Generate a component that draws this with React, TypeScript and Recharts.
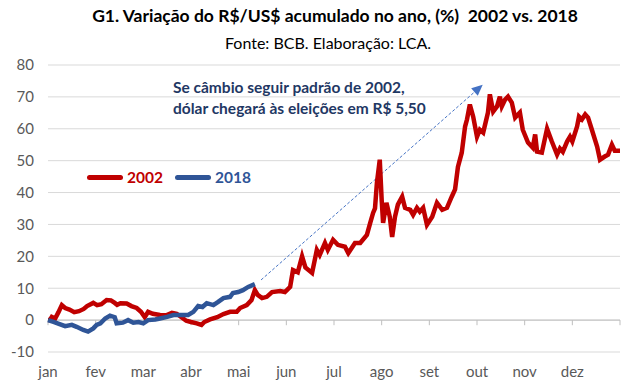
import { CartesianGrid, Line, LineChart, ReferenceLine, XAxis, YAxis } from "recharts";

const months = ["jan", "fev", "mar", "abr", "mai", "jun", "jul", "ago", "set", "out", "nov", "dez"];
const yTicks = [-10, 0, 10, 20, 30, 40, 50, 60, 70, 80];

// x = months since jan 1st, y = % accumulated in the year
const x2002 = [
  0, 0.04, 0.08, 0.15, 0.22, 0.29, 0.36, 0.45, 0.55, 0.65, 0.75, 0.82, 0.95, 1.03, 1.12, 1.23, 1.32, 1.4,
  1.45, 1.52, 1.65, 1.75, 1.86, 1.95, 2.03, 2.1, 2.2, 2.35, 2.48, 2.6, 2.7, 2.8, 2.9, 3.0, 3.12, 3.22, 3.28,
  3.4, 3.55, 3.68, 3.82, 3.96, 4.03, 4.17, 4.27, 4.34, 4.4, 4.49, 4.59, 4.7, 4.87, 4.97, 5.08, 5.14, 5.24,
  5.33, 5.4, 5.54, 5.64, 5.7, 5.81, 5.87, 5.98, 6.08, 6.23, 6.3, 6.44, 6.55, 6.69, 6.76, 6.82, 6.86, 6.9,
  6.96, 7.0, 7.03, 7.1, 7.17, 7.22, 7.28, 7.34, 7.43, 7.49, 7.6, 7.66, 7.74, 7.8, 7.87, 7.95, 8.06, 8.16,
  8.27, 8.37, 8.47, 8.54, 8.6, 8.68, 8.75, 8.79, 8.85, 8.92, 9.0, 9.06, 9.13, 9.23, 9.27, 9.34, 9.42, 9.48,
  9.52, 9.59, 9.65, 9.73, 9.8, 9.9, 9.96, 10.07, 10.17, 10.22, 10.26, 10.36, 10.47, 10.57, 10.68, 10.74,
  10.8, 10.89, 10.95, 11.0, 11.1, 11.14, 11.2, 11.27, 11.33, 11.41, 11.52, 11.58, 11.68, 11.75, 11.83,
  11.89, 12.0,
];
const y2002 = [
  0, 0, 1, 0.5, 2.5, 4.7, 3.8, 3.3, 2.5, 2.8, 3.5, 4.4, 5.4, 4.7, 5.0, 6.3, 6.2, 5.4,
  4.8, 5.3, 5.2, 4.4, 3.8, 2.6, 0.9, 2.6, 2.0, 1.6, 1.5, 2.3, 2.0, 0.9, -0.2, -0.6, -1.0, -1.5, -0.6,
  0.2, 0.9, 1.9, 2.6, 2.6, 3.8, 4.7, 6.3, 9.4, 7.9, 6.9, 7.3, 8.8, 9.1, 8.8, 10.4, 15.7, 15.0,
  20.0, 16.5, 14.8, 22, 20.4, 24.2, 22, 25.2, 23.6, 23, 21, 24.2, 24.2, 26.7, 30.5, 33.6, 35, 43,
  50.3, 37.7, 30.5, 36.8, 32.4, 26.1, 32.4, 36.2, 38.7, 35.2, 34.6, 33, 35.2, 34, 35.2, 29.9, 32.4, 36.8,
  34.6, 35.2, 38.7, 41, 48, 52.5, 60.7, 62.9, 67.6, 63.8, 57.5, 59.7, 58.8, 65.1, 70.8, 65.4, 67, 70.1,
  67, 69.2, 70.1, 68.2, 63.5, 65.1, 59.7, 55.7, 54.1, 58.2, 52.8, 52.5, 60, 56, 51.9, 53.8,
  52.8, 56, 57.5, 56, 60.7, 63.8, 62.9, 64.5, 63.5, 59.7, 54.4, 50.3, 51.3, 51.9, 55,
  53.1, 53.1,
];

const x2018 = [
  0, 0.1, 0.2, 0.36, 0.5, 0.6, 0.74, 0.84, 0.95, 1.02, 1.1, 1.2, 1.3, 1.4, 1.44, 1.57, 1.68, 1.79, 1.9,
  2.0, 2.1, 2.25, 2.35, 2.5, 2.63, 2.8, 2.94, 3.05, 3.15, 3.24, 3.33, 3.47, 3.57, 3.68, 3.82, 3.88, 3.99,
  4.09, 4.2, 4.34,
];
const y2018 = [
  0, -0.5, -1, -1.9, -1.5, -2.1, -3.1, -3.6, -2.6, -1.5, -1, 0.5, 1.4, 0.9, -1, -0.8, 0, -0.8, -0.6,
  -1, 0, 0.2, 0.5, 1, 1.6, 1.6, 1.6, 2.6, 4.4, 4.1, 5.3, 4.7, 5.7, 6.9, 7.3, 8.5, 8.8,
  9.4, 10.4, 11.3,
];

const s2002 = x2002.map((m, i) => ({ m, v: y2002[i] }));
const s2018 = x2018.map((m, i) => ({ m, v: y2018[i] }));

const C = {
  red: "#C00000",
  blue: "#2F5597",
  grid: "#D9D9D9",
  axis: "#BFBFBF",
  label: "#595959",
  note: "#1F3864",
  arrow: "#4472C4",
};
const FONT = "Lato, 'Open Sans', sans-serif";

function Arrow(p: any) {
  const { x1, y1, x2, y2 } = p;
  const ang = Math.atan2(y2 - y1, x2 - x1);
  const len = 11;
  const w = 5;
  const bx = x2 - len * Math.cos(ang);
  const by = y2 - len * Math.sin(ang);
  const nx = -Math.sin(ang) * w;
  const ny = Math.cos(ang) * w;
  return (
    <g>
      <line x1={x1} y1={y1} x2={bx} y2={by} stroke={C.arrow} strokeWidth={1} strokeDasharray="3 2" />
      <polygon points={`${x2},${y2} ${bx + nx},${by + ny} ${bx - nx},${by - ny}`} fill={C.arrow} />
    </g>
  );
}

function LegendItem({ color, label }: { color: string; label: string }) {
  return (
    <div style={{ display: "flex", alignItems: "center", marginRight: 12 }}>
      <div style={{ width: 36, height: 5, background: color, borderRadius: 2.5, marginRight: 4 }} />
      <span style={{ color, fontWeight: 700, fontSize: 15.5 }}>{label}</span>
    </div>
  );
}

export default function App() {
  return (
    <div style={{ position: "relative", width: 640, height: 384, background: "#fff", fontFamily: FONT }}>
      <style>{`body{margin:0}`}</style>
      <div style={{ position: "absolute", top: 5, left: 0, width: 670, textAlign: "center", fontWeight: 700, fontSize: 17.5, color: "#000" }}>
        G1. Variação do R$/US$ acumulado no ano, (%)&nbsp; 2002 vs. 2018
      </div>
      <div style={{ position: "absolute", top: 33, left: 0, width: 656, textAlign: "center", fontSize: 16, color: "#000" }}>
        Fonte: BCB. Elaboração: LCA.
      </div>
      <LineChart width={640} height={384} margin={{ top: 65, right: 20, left: 0, bottom: 0 }}>
        <CartesianGrid vertical={false} stroke={C.grid} />
        <XAxis
          type="number"
          dataKey="m"
          domain={[0, 12]}
          ticks={[0, 1, 2, 3, 4, 5, 6, 7, 8, 9, 10, 11, 12]}
          interval={0}
          tickFormatter={(i: number) => months[i] ?? ""}
          axisLine={false}
          tickLine={false}
          height={32}
          tickMargin={8}
          tick={{ fill: C.label, fontSize: 15, fontFamily: FONT }}
        />
        <YAxis
          type="number"
          domain={[-10, 80]}
          ticks={yTicks}
          interval={0}
          axisLine={false}
          tickLine={false}
          width={48}
          tickMargin={8}
          tick={{ fill: C.label, fontSize: 15, fontFamily: FONT }}
        />
        <ReferenceLine y={0} stroke={C.axis} strokeWidth={1} />
        {[0, 1, 2, 3, 4, 5, 6, 7, 8, 9, 10, 11, 12].map((i) => (
          <ReferenceLine
            key={i}
            segment={[{ x: i, y: 0 }, { x: i, y: -1.6 }]}
            stroke={C.axis}
            ifOverflow="visible"
          />
        ))}
        <ReferenceLine
          segment={[{ x: 4.47, y: 12.6 }, { x: 9.12, y: 73.8 }]}
          ifOverflow="visible"
          shape={Arrow}
        />
        <Line
          data={s2002}
          dataKey="v"
          name="2002"
          type="linear"
          stroke={C.red}
          strokeWidth={4.5}
          dot={false}
          isAnimationActive={false}
        />
        <Line
          data={s2018}
          dataKey="v"
          name="2018"
          type="linear"
          stroke={C.blue}
          strokeWidth={4.5}
          dot={false}
          isAnimationActive={false}
        />
      </LineChart>
      <div style={{ position: "absolute", top: 168, left: 87, display: "flex" }}>
        <LegendItem color={C.red} label="2002" />
        <LegendItem color={C.blue} label="2018" />
      </div>
      <div style={{ position: "absolute", top: 77, left: 173, fontWeight: 700, fontSize: 15.5, lineHeight: "21px", color: C.note }}>
        Se câmbio seguir padrão de 2002,
        <br />
        dólar chegará às eleições em R$ 5,50
      </div>
    </div>
  );
}
